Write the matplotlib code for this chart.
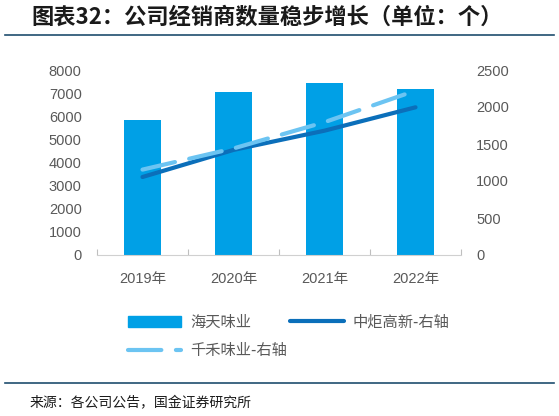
import matplotlib
matplotlib.use('Agg')
import matplotlib.pyplot as plt
from matplotlib.patches import Patch
from matplotlib.lines import Line2D
import numpy as np

plt.rcParams['font.family'] = ['Liberation Sans', 'Noto Sans CJK SC']

years = ['2019年', '2020年', '2021年', '2022年']
haitian = [5840, 7060, 7450, 7190]
zhongju = [1054, 1420, 1680, 1996]
qianhe = [1154, 1440, 1795, 2221]

bar_color = '#00A0E6'
zj_color = '#0B6FBA'
qh_color = '#6CC4F2'
text_color = '#595959'
cjk = ['Noto Sans CJK SC', 'DejaVu Sans']

fig = plt.figure(figsize=(5.59, 4.16), dpi=100)

# title + rule
fig.text(31 / 559, 1 - 17 / 416, '图表32：公司经销商数量稳步增长（单位：个）',
         fontsize=16, fontweight='bold', fontstyle='italic', color='#1a1a1a',
         va='center', ha='left', family=cjk)
fig.add_artist(Line2D([5 / 559, 554 / 559], [1 - 35 / 416, 1 - 35 / 416],
                      color='#1F4E6E', lw=1.2))

# bottom rule + source
fig.add_artist(Line2D([5 / 559, 554 / 559], [1 - 383 / 416, 1 - 383 / 416],
                      color='#1F4E6E', lw=1.2))
fig.text(30 / 559, 1 - 403 / 416, '来源：各公司公告，国金证券研究所',
         fontsize=10, color='#1a1a1a', va='center', ha='left', family=cjk)

ax = fig.add_axes([97 / 559, 161 / 416, 364 / 559, 185 / 416])
x = np.arange(len(years))
ax.bar(x, haitian, width=0.41, color=bar_color, zorder=2)
ax.set_xlim(-0.5, 3.5)
ax.set_ylim(0, 8000)
ax.set_yticks(np.arange(0, 8001, 1000))
ax.set_xticks(x)
ax.set_xticklabels(years)
ax.set_xticks([-0.5, 0.5, 1.5, 2.5, 3.5], minor=True)
ax.tick_params(axis='x', which='major', length=0, pad=12, labelsize=10.5,
               labelcolor=text_color)
ax.tick_params(axis='x', which='minor', length=4, direction='in',
               color='#BFBFBF', width=0.8)
ax.tick_params(axis='y', length=0, pad=11, labelsize=10.5, labelcolor=text_color)
for s in ['top', 'left', 'right']:
    ax.spines[s].set_visible(False)
ax.spines['bottom'].set_color('#D0D0D0')

ax2 = ax.twinx()
ax2.plot(x, zhongju, color=zj_color, lw=3, solid_capstyle='round', zorder=3)
ax2.plot(x, qianhe, color=qh_color, lw=3, dashes=(8, 3.5),
         dash_capstyle='round', zorder=3)
ax2.set_ylim(0, 2500)
ax2.set_yticks(np.arange(0, 2501, 500))
ax2.tick_params(axis='y', length=0, pad=11, labelsize=10.5, labelcolor=text_color)
for s in ['top', 'left', 'right', 'bottom']:
    ax2.spines[s].set_visible(False)

handles = [
    Patch(color=bar_color, label='海天味业'),
    Line2D([], [], color=qh_color, lw=3, dashes=(8, 3.5), dash_capstyle='round',
           label='千禾味业-右轴'),
    Line2D([], [], color=zj_color, lw=3, solid_capstyle='round', label='中炬高新-右轴'),
]
leg = fig.legend(handles=handles, ncol=2, loc='upper left',
                 bbox_to_anchor=(114 / 559, 1 - 300 / 416), frameon=False,
                 prop={'family': cjk, 'size': 11}, handlelength=3.5,
                 handletextpad=0.6, columnspacing=0.2, labelspacing=0.75)
for t in leg.get_texts():
    t.set_color(text_color)

fig.savefig('out.png', dpi=100)
